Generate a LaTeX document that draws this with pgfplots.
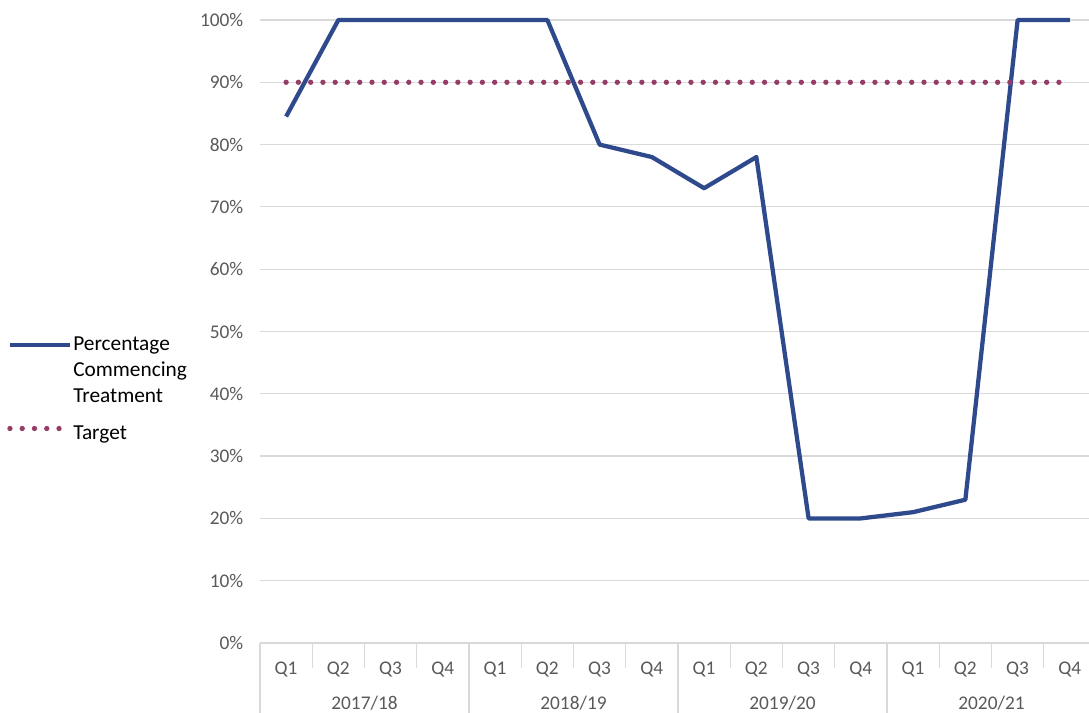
\documentclass[border=0pt]{standalone}
\usepackage{fontspec}
\setmainfont{Carlito}
\usepackage{xcolor}
\definecolor{lineBlue}{HTML}{2E4A8C}
\definecolor{targetRed}{HTML}{953D66}
\definecolor{gridGray}{HTML}{D9D9D9}
\definecolor{tickGray}{HTML}{595959}
\usepackage{pgfplots}
\pgfplotsset{compat=1.18}

\pgfplotstableread{
x pct target
0 84.5 90
1 100 90
2 100 90
3 100 90
4 100 90
5 100 90
6 80 90
7 78 90
8 73 90
9 78 90
10 20 90
11 20 90
12 21 90
13 23 90
14 100 90
15 100 90
}\commencing

\tikzset{
  legrow/.style={text height=11.5pt, text depth=3.5pt, inner ysep=1.5pt, inner xsep=0.5pt},
}

\begin{document}
\begin{tikzpicture}
\begin{axis}[
  scale only axis,
  width=627pt, height=467.25pt,
  xmin=-0.5, xmax=15.5,
  ymin=0, ymax=100,
  clip=false,
  axis line style={draw=none},
  major tick length=0pt,
  ytick={0,10,...,100},
  yticklabel={\pgfmathprintnumber{\tick}\%},
  /pgf/number format/assume math mode=true,
  yticklabel style={font=\fontsize{14.5}{17}\selectfont, color=tickGray, xshift=-9pt},
  ymajorgrids,
  grid style={gridGray, line width=0.9pt},
  xtick={0,...,15},
  xticklabels={Q1,Q2,Q3,Q4,Q1,Q2,Q3,Q4,Q1,Q2,Q3,Q4,Q1,Q2,Q3,Q4},
  xticklabel style={font=\fontsize{14.5}{17}\selectfont, color=tickGray, yshift=-10.5pt},
  legend style={at={(-0.3026,0.498)}, anchor=north west, draw=none, fill=none,
    font=\fontsize{16}{19.5}\selectfont, row sep=1.5pt,
    inner sep=0pt},
  legend cell align=left,
  legend image code/.code={\draw[#1] (0pt,0pt) -- (45pt,0pt);},
]
\addplot[lineBlue, line width=3.2pt, line join=round] table[x=x, y=pct] {\commencing};
\addlegendentry[legrow]{Percentage}
\addlegendimage{empty legend}
\addlegendentry[legrow]{Commencing}
\addlegendimage{empty legend}
\addlegendentry[legrow]{Treatment}
\addplot[targetRed, line width=4pt, line cap=round, dash pattern=on 0pt off 9.2pt] table[x=x, y=target] {\commencing};
\addlegendentry[legrow, text height=19.75pt]{Target}

\pgfplotsinvokeforeach{0.5,1.5,2.5,4.5,5.5,6.5,8.5,9.5,10.5,12.5,13.5,14.5}{
  \draw[gridGray, line width=0.9pt] (axis cs:#1,0) -- ([yshift=-18.75pt]axis cs:#1,0);
}
\pgfplotsinvokeforeach{-0.5,3.5,7.5,11.5,15.5}{
  \draw[gridGray, line width=0.9pt] (axis cs:#1,0) -- ([yshift=-52.5pt]axis cs:#1,0);
}
\node[font=\fontsize{14.5}{17}\selectfont, text=tickGray] at ([yshift=-45.5pt]axis cs:1.5,0) {2017/18};
\node[font=\fontsize{14.5}{17}\selectfont, text=tickGray] at ([yshift=-45.5pt]axis cs:5.5,0) {2018/19};
\node[font=\fontsize{14.5}{17}\selectfont, text=tickGray] at ([yshift=-45.5pt]axis cs:9.5,0) {2019/20};
\node[font=\fontsize{14.5}{17}\selectfont, text=tickGray] at ([yshift=-45.5pt]axis cs:13.5,0) {2020/21};
\end{axis}
\pgfresetboundingbox
\path (-195pt,-52.5pt) rectangle (621.75pt,482.25pt);
\end{tikzpicture}
\end{document}
